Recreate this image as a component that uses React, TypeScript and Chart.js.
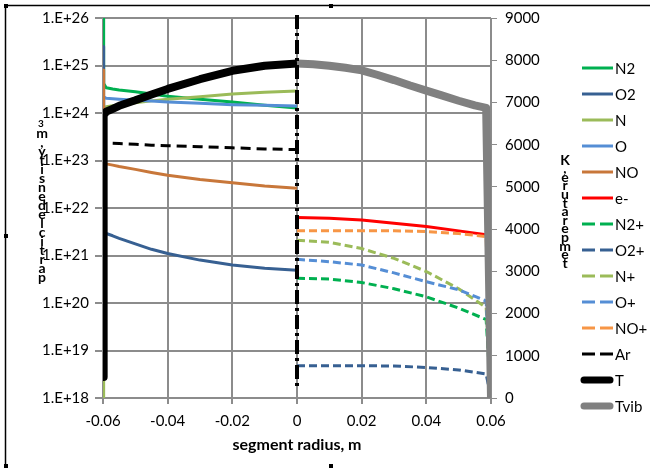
import React, { useEffect, useRef } from "react";
import { Chart, registerables } from "chart.js";
Chart.register(...registerables);

// ---------- data ----------
const xLeft = [-0.06, -0.0598, -0.059, -0.057, -0.055, -0.05, -0.045, -0.04, -0.03, -0.02, -0.01, 0];
const n2Vals = [1e26, 4.2e24, 3.4e24, 3.2e24, 3.05e24, 2.8e24, 2.5e24, 2.25e24, 1.95e24, 1.7e24, 1.45e24, 1.27e24];
const o2Vals = [2.5e25, 3.3e21, 2.9e21, 2.6e21, 2.3e21, 1.75e21, 1.35e21, 1.1e21, 8.0e20, 6.3e20, 5.4e20, 4.9e20];
const nVals = [1e18, 1.3e24, 1.35e24, 1.42e24, 1.5e24, 1.65e24, 1.8e24, 1.95e24, 2.2e24, 2.5e24, 2.75e24, 2.9e24];
const oVals = [6e21, 2.2e24, 2.05e24, 2.0e24, 1.95e24, 1.85e24, 1.78e24, 1.7e24, 1.6e24, 1.5e24, 1.45e24, 1.4e24];
const noVals = [8e24, 9.5e22, 8.5e22, 8.0e22, 7.5e22, 6.5e22, 5.6e22, 4.9e22, 4.0e22, 3.4e22, 2.9e22, 2.6e22];
const arVals = [null, null, null, 2.3e23, 2.28e23, 2.2e23, 2.1e23, 2.05e23, 1.95e23, 1.85e23, 1.75e23, 1.7e23];
const tVals = [500, 6700, 6780, 6850, 6920, 7050, 7190, 7320, 7550, 7750, 7870, 7920];

const xRight = [0, 0.01, 0.02, 0.03, 0.04, 0.05, 0.0585, 0.06];
const eVals = [6.3e21, 6.1e21, 5.6e21, 4.8e21, 4.1e21, 3.3e21, 2.75e21, 2.6e21];
const n2pVals = [3.3e20, 3.2e20, 2.7e20, 2.0e20, 1.35e20, 7.8e19, 4.5e19, 1e18];
const o2pVals = [4.8e18, 4.8e18, 4.8e18, 4.7e18, 4.4e18, 3.9e18, 3.2e18, 1e18];
const npVals = [2.1e21, 1.9e21, 1.4e21, 8.7e20, 4.6e20, 2.0e20, 8.0e19, 1e18];
const opVals = [8.3e20, 7.4e20, 6.3e20, 4.3e20, 2.8e20, 1.9e20, 1.1e20, 1e18];
const nopVals = [3.3e21, 3.3e21, 3.3e21, 3.3e21, 3.2e21, 2.9e21, 2.5e21, 1e18];

const xTvib = [0, 0.005, 0.01, 0.015, 0.02, 0.025, 0.03, 0.035, 0.04, 0.045, 0.05, 0.055, 0.0585, 0.06];
const tvibVals = [7920, 7905, 7870, 7820, 7760, 7650, 7530, 7400, 7280, 7160, 7040, 6930, 6870, 0];

const separatorX = [0, 0];
const separatorT = [9070, 250];

const densityExponents = [18, 19, 20, 21, 22, 23, 24, 25, 26];
const xTickValues = [-0.06, -0.04, -0.02, 0, 0.02, 0.04, 0.06];
const tempTickValues = [0, 1000, 2000, 3000, 4000, 5000, 6000, 7000, 8000, 9000];

const xTitle = "segment radius, m";
const leftTitle = "particle density, m³";
const rightTitle = "temperature, K";

// ---------- helpers ----------
const FONT = "Lato";
const pts = (xs: number[], ys: (number | null)[]) =>
  xs.map((x, i) => ({ x, y: ys[i] })).filter((p) => p.y !== null);

type S = { label: string; xs: number[]; ys: (number | null)[]; color: string; dash?: number[]; width?: number; axis: string; legend?: boolean };
const DASH = [8, 4];
const series: S[] = [
  { label: "N2", xs: xLeft, ys: n2Vals, color: "#00B050", axis: "y" },
  { label: "O2", xs: xLeft, ys: o2Vals, color: "#376092", axis: "y" },
  { label: "N", xs: xLeft, ys: nVals, color: "#9BBB59", axis: "y" },
  { label: "O", xs: xLeft, ys: oVals, color: "#558ED5", axis: "y" },
  { label: "NO", xs: xLeft, ys: noVals, color: "#C8773A", axis: "y" },
  { label: "e-", xs: xRight, ys: eVals, color: "#FF0000", axis: "y" },
  { label: "N2+", xs: xRight, ys: n2pVals, color: "#00B050", dash: DASH, axis: "y" },
  { label: "O2+", xs: xRight, ys: o2pVals, color: "#376092", dash: DASH, axis: "y" },
  { label: "N+", xs: xRight, ys: npVals, color: "#9BBB59", dash: DASH, axis: "y" },
  { label: "O+", xs: xRight, ys: opVals, color: "#558ED5", dash: DASH, axis: "y" },
  { label: "NO+", xs: xRight, ys: nopVals, color: "#F79646", dash: DASH, axis: "y" },
  { label: "Ar", xs: xLeft, ys: arVals, color: "#000000", dash: [10, 6], axis: "y" },
  { label: "T", xs: xLeft, ys: tVals, color: "#000000", width: 8, axis: "y1" },
  { label: "Tvib", xs: xTvib, ys: tvibVals, color: "#808080", width: 8, axis: "y1" },
  { label: "", xs: separatorX, ys: separatorT, color: "#000000", dash: [14, 4, 3, 4], width: 4, axis: "y1", legend: false },
];

const framePlugin = {
  id: "frame",
  afterDraw(chart: any) {
    const ctx = chart.ctx;
    ctx.save();
    ctx.strokeStyle = "#000";
    ctx.lineWidth = 1.5;
    ctx.beginPath();
    ctx.moveTo(5.5, 468);
    ctx.lineTo(5.5, 5.5);
    ctx.lineTo(650, 5.5);
    ctx.stroke();
    ctx.fillStyle = "#000";
    [[4, 4], [4, 234], [4, 464], [329, 4], [329, 464]].forEach(([x, y]) => ctx.fillRect(x, y, 4, 4));

    // stacked axis titles
    ctx.font = `bold 14px ${FONT}`;
    ctx.textAlign = "center";
    ctx.textBaseline = "middle";
    const lchars = leftTitle.split("").filter((c) => c !== " ").reverse();
    lchars.forEach((c, i) => {
      if (c === "³") {
        ctx.font = `bold 10px ${FONT}`;
        ctx.fillText("3", 41, 124);
        ctx.font = `bold 14px ${FONT}`;
      } else {
        ctx.fillText(c, 42, 124 + i * 9.0);
      }
    });
    const rchars = rightTitle.split("").filter((c) => c !== " ").reverse();
    rchars.forEach((c, i) => ctx.fillText(c, 565, 160 + i * 8.6));

    // legend
    const items = chart.data.datasets.filter((d: any) => d.showInLegend);
    items.forEach((d: any, i: number) => {
      const y = 68 + i * 26;
      ctx.save();
      ctx.strokeStyle = d.borderColor;
      const thick = d.borderWidth > 5;
      ctx.lineWidth = thick ? 7 : 3;
      ctx.lineCap = thick ? "round" : "butt";
      ctx.setLineDash(d.borderDash && d.borderDash.length ? [13, 5] : []);
      ctx.beginPath();
      ctx.moveTo(thick ? 584 : 582, y);
      ctx.lineTo(thick ? 610 : 613, y);
      ctx.stroke();
      ctx.restore();
      ctx.font = `15px ${FONT}`;
      ctx.textAlign = "left";
      ctx.fillStyle = "#000";
      ctx.fillText(d.label, 615, y + 1);
    });
    ctx.restore();
  },
};

export default function App() {
  const ref = useRef<HTMLCanvasElement | null>(null);
  useEffect(() => {
    if (!ref.current) return;
    Chart.defaults.font.family = FONT;
    Chart.defaults.font.size = 15;
    Chart.defaults.color = "#000";
    const n = series.length;
    const chart = new Chart(ref.current, {
      type: "line",
      data: {
        datasets: series.map((s, i) => ({
          label: s.label,
          data: pts(s.xs, s.ys),
          borderColor: s.color,
          backgroundColor: s.color,
          borderWidth: s.width ?? 3,
          borderDash: s.dash ?? [],
          borderJoinStyle: "round",
          pointRadius: 0,
          pointHoverRadius: 0,
          tension: 0,
          fill: false,
          yAxisID: s.axis,
          order: n - i,
          clip: s.legend === false ? false : undefined,
          showInLegend: s.legend !== false,
        })) as any,
      },
      options: {
        animation: false,
        responsive: false,
        devicePixelRatio: 1,
        events: [],
        layout: { padding: { left: 8, top: 18, right: 0, bottom: 0 } },
        plugins: { legend: { display: false }, tooltip: { enabled: false } },
        scales: {
          x: {
            type: "linear",
            min: -0.06,
            max: 0.06,
            afterBuildTicks: (s: any) => { s.ticks = xTickValues.map((v) => ({ value: v })); },
            afterFit: (s: any) => { s.height = 70; },
            ticks: {
              callback: (v: any) => String(Number(Number(v).toFixed(2))),
              padding: 8,
              maxRotation: 0,
              font: { size: 15 },
            },
            grid: { color: "#8c8c8c", lineWidth: 2, tickLength: 6 },
            border: { color: "#8c8c8c", width: 2 },
            title: { display: true, text: xTitle, font: { size: 16, weight: "bold" }, padding: { top: 4, bottom: 14 } },
          },
          y: {
            type: "logarithmic",
            position: "left",
            min: 1e18,
            max: 1e26,
            afterBuildTicks: (s: any) => { s.ticks = densityExponents.map((e) => ({ value: Math.pow(10, e) })); },
            afterFit: (s: any) => { s.width = 95; },
            ticks: {
              callback: (v: any) => "1.E+" + Math.round(Math.log10(Number(v))),
              padding: 6,
              font: { size: 15 },
            },
            grid: { color: "#8c8c8c", lineWidth: 2, tickLength: 8 },
            border: { color: "#8c8c8c", width: 2 },
          },
          y1: {
            type: "linear",
            position: "right",
            min: 0,
            max: 9000,
            afterBuildTicks: (s: any) => { s.ticks = tempTickValues.map((v) => ({ value: v })); },
            afterFit: (s: any) => { s.width = 159; },
            ticks: { padding: 8, font: { size: 15 }, callback: (v: any) => String(v) },
            grid: { drawOnChartArea: false, color: "#8c8c8c", lineWidth: 1, tickLength: 6 },
            border: { color: "#8c8c8c", width: 1 },
          },
        },
      },
      plugins: [framePlugin],
    } as any);
    return () => chart.destroy();
  }, []);
  return (
    <div style={{ position: "fixed", left: 0, top: 0, width: 650, height: 468, background: "#fff" }}>
      <canvas ref={ref} width={650} height={468} style={{ display: "block" }} />
    </div>
  );
}
